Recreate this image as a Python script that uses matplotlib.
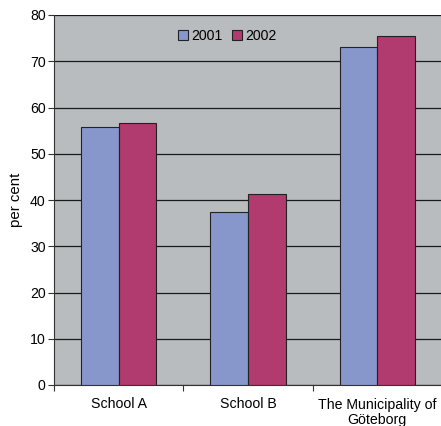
import matplotlib
matplotlib.use('Agg')
import matplotlib.pyplot as plt
import numpy as np

plt.rcParams['font.family'] = ['Liberation Sans', 'DejaVu Sans']

categories = ['School A', 'School B', 'The Municipality of\nGöteborg']
years = ['2001', '2002']
values_2001 = [55.7, 37.5, 73.0]
values_2002 = [56.7, 41.3, 75.5]
colors = ['#8797cb', '#b13a6e']

fig = plt.figure(figsize=(4.41, 4.26), dpi=100)
ax = fig.add_axes([54 / 441, 41 / 426, 388 / 441, 370 / 426])
ax.set_facecolor('#b8bcbf')

x = np.arange(len(categories))
w = 0.29
ax.bar(x - w / 2, values_2001, w, color=colors[0], edgecolor='#222222', linewidth=0.8, label=years[0], zorder=3)
ax.bar(x + w / 2, values_2002, w, color=colors[1], edgecolor='#222222', linewidth=0.8, label=years[1], zorder=3)

ax.set_xlim(-0.5, 2.5)
ax.set_ylim(0, 80)
ax.set_yticks(range(0, 81, 10))
ax.yaxis.grid(True, color='#1a1a1a', linewidth=0.9, zorder=1)
ax.set_axisbelow(True)

# category labels centred, tick marks on boundaries
ax.set_xticks(x)
ax.set_xticklabels(categories, fontsize=10.2, linespacing=1.15)
ax.tick_params(axis='x', length=0, pad=9)
ax.set_xticks([-0.5, 0.5, 1.5], minor=True)
ax.tick_params(axis='x', which='minor', length=4, width=0.8, color='#333333')
ax.tick_params(axis='y', length=4, width=0.8, color='#333333', labelsize=10.2, pad=2)

for side in ['top', 'right']:
    ax.spines[side].set_visible(False)
ax.spines['left'].set_color('#333333')
ax.spines['bottom'].set_color('#333333')

ax.set_ylabel('per cent', fontsize=10.8, labelpad=5)

ax.legend(loc='center', bbox_to_anchor=(0.447, 0.943), ncol=2, frameon=False,
          fontsize=10.2, handlelength=0.7, handleheight=0.7, handletextpad=0.2,
          columnspacing=0.7)

fig.savefig('out.png', dpi=100)
